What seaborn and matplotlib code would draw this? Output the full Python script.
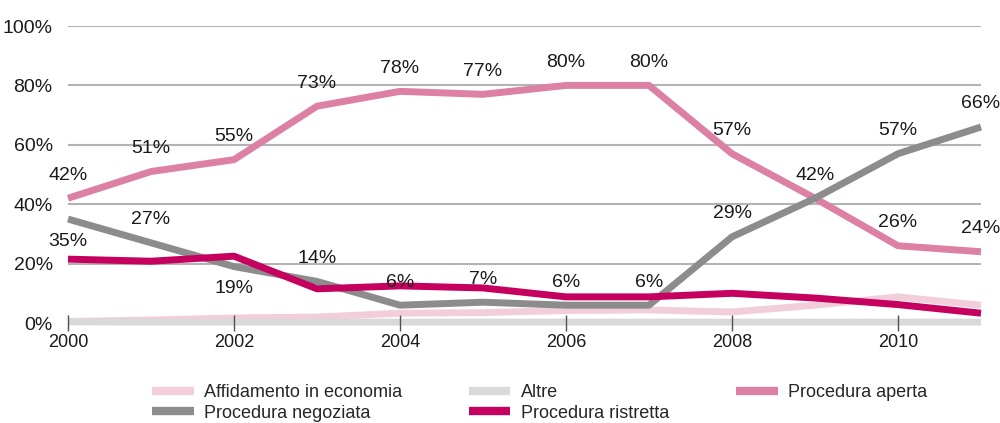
import numpy as np
import pandas as pd

import matplotlib.pyplot as plt
import seaborn as sns

# Dati (quota % per procedura di aggiudicazione)
anni = [2000, 2001, 2002, 2003, 2004, 2005, 2006, 2007, 2008, 2009, 2010, 2011]
affidamento = [0.5, 1.0, 1.7, 2.0, 3.3, 3.5, 4.2, 4.4, 3.7, 6.0, 8.8, 6.0]
altre = [0.4, 0.3, 0.3, 0.3, 0.3, 0.3, 0.3, 0.3, 0.3, 0.3, 0.3, 0.3]
aperta = [42, 51, 55, 73, 78, 77, 80, 80, 57, 42, 26, 24]
negoziata = [35, 27, 19, 14, 6, 7, 6, 6, 29, 42, 57, 66]
ristretta = [21.5, 20.8, 22.5, 11.5, 12.5, 11.8, 8.8, 8.8, 10.0, 8.4, 6.2, 3.3]

serie = ["Affidamento in economia", "Altre", "Procedura aperta",
         "Procedura negoziata", "Procedura ristretta"]
colori = {
    "Affidamento in economia": "#F2CEDB",
    "Altre": "#D9D9D9",
    "Procedura aperta": "#DC80A4",
    "Procedura negoziata": "#8C8C8C",
    "Procedura ristretta": "#C6005F",
}

df = pd.DataFrame({
    "anno": anni * 5,
    "quota": affidamento + altre + aperta + negoziata + ristretta,
    "serie": np.repeat(serie, len(anni)),
})

sns.set_theme(style="white")
plt.rcParams["font.family"] = ["Liberation Sans", "DejaVu Sans"]

fig = plt.figure(figsize=(10, 4.23), dpi=100)
ax = fig.add_axes([0.068, 0.2364, 0.913, 0.7021])

sns.lineplot(data=df, x="anno", y="quota", hue="serie", hue_order=serie,
             palette=colori, linewidth=5, ax=ax, legend=True)
for line in ax.get_lines():
    line.set_solid_capstyle("butt")
    line.set_solid_joinstyle("round")
    line.set_clip_on(False)

ax.set_xlim(2000, 2011)
ax.set_ylim(0, 100)
ax.set_yticks(range(0, 101, 20))
ax.set_yticklabels([f"{v}%" for v in range(0, 101, 20)])
ax.set_xticks(anni[::2])
ax.set_xticklabels([str(a) for a in anni[::2]])
ax.set_xlabel("")
ax.set_ylabel("")
ax.yaxis.grid(True, color="#B3B3B3", linewidth=1.5)
ax.set_axisbelow(True)
for s in ax.spines.values():
    s.set_visible(False)
ax.tick_params(axis="y", length=0, pad=11, labelsize=14, labelcolor="#1a1a1a")
ax.tick_params(axis="x", bottom=True, direction="inout", length=12, width=1,
               color="#505050", pad=2, labelsize=13, labelcolor="#1a1a1a")
ax.xaxis.set_zorder(3)

# Etichette dei valori
for a, v in zip(anni, aperta):
    if a == 2009:
        continue
    ax.annotate(f"{v}%", (a, v), textcoords="offset pixels", xytext=(0, 23),
                ha="center", va="center", fontsize=14, color="#1a1a1a")
for a, v in zip(anni, negoziata):
    dy = -22 if a in (2000, 2002) else 23
    ax.annotate(f"{v}%", (a, v), textcoords="offset pixels", xytext=(0, dy),
                ha="center", va="center", fontsize=14, color="#1a1a1a")

handles, labels = ax.get_legend_handles_labels()
ax.get_legend().remove()
ordine = [0, 3, 1, 4, 2]
leg = fig.legend([handles[i] for i in ordine], [labels[i] for i in ordine],
                 loc="upper left", bbox_to_anchor=(0.152, 1 - 384 / 423),
                 ncol=3, frameon=False, fontsize=13, handlelength=2.3,
                 handletextpad=0.6, columnspacing=3.68, labelspacing=0.2,
                 borderpad=0, borderaxespad=0)
for h in leg.get_lines():
    h.set_linewidth(6)

fig.savefig("out.png", dpi=100)
